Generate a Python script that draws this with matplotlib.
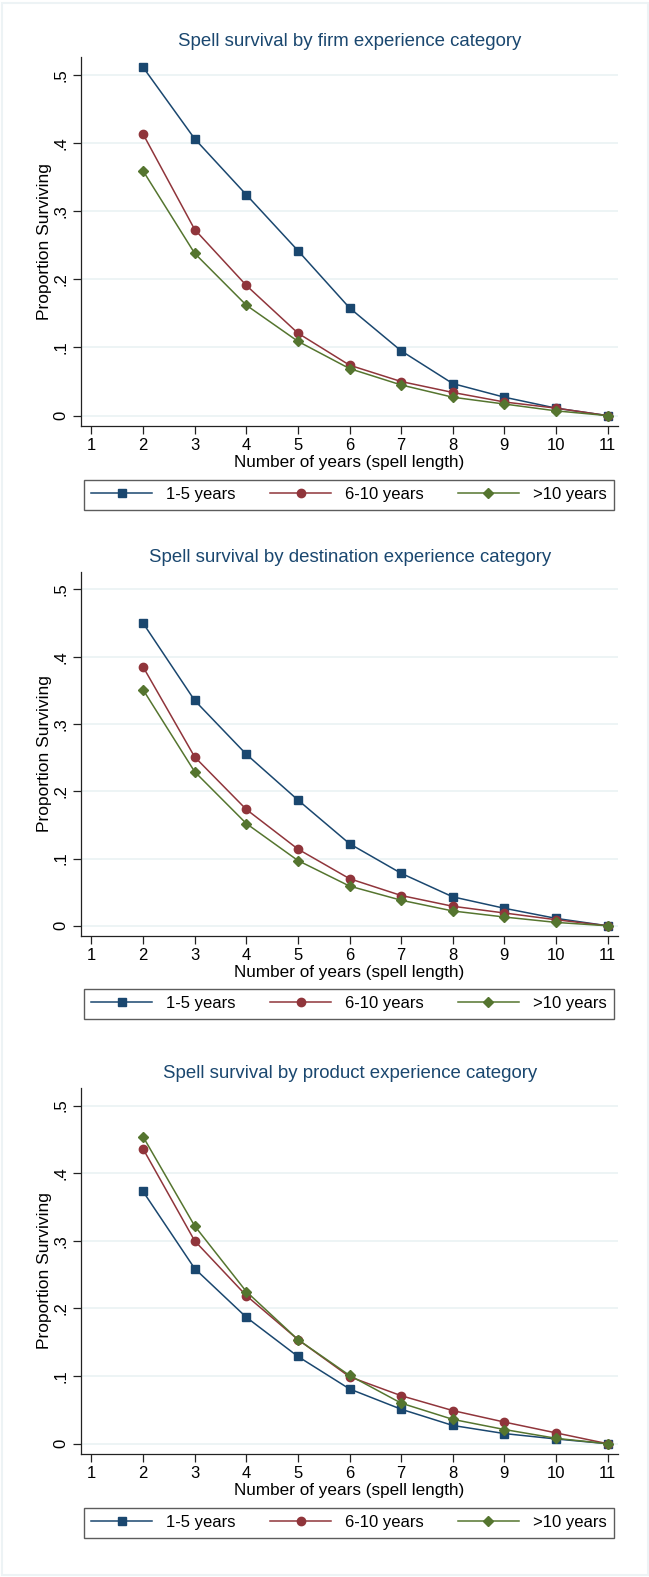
import matplotlib
matplotlib.use("Agg")
import matplotlib.pyplot as plt
from matplotlib.patches import Rectangle

plt.rcParams['font.family'] = ['Liberation Sans', 'DejaVu Sans']

# spell length in years
years = [2, 3, 4, 5, 6, 7, 8, 9, 10, 11]
series_names = ["1-5 years", "6-10 years", ">10 years"]

# panel titles
titles = ["Spell survival by firm experience category",
          "Spell survival by destination experience category",
          "Spell survival by product experience category"]

# proportion surviving
firm_1_5 = [0.511, 0.406, 0.324, 0.242, 0.158, 0.095, 0.047, 0.027, 0.011, 0.0]
firm_6_10 = [0.413, 0.273, 0.191, 0.121, 0.074, 0.050, 0.034, 0.020, 0.011, 0.0]
firm_10p = [0.359, 0.238, 0.162, 0.109, 0.069, 0.045, 0.027, 0.017, 0.007, 0.0]

dest_1_5 = [0.450, 0.335, 0.255, 0.187, 0.122, 0.078, 0.043, 0.026, 0.011, 0.0]
dest_6_10 = [0.385, 0.251, 0.173, 0.114, 0.070, 0.045, 0.029, 0.019, 0.009, 0.0]
dest_10p = [0.351, 0.229, 0.152, 0.097, 0.059, 0.038, 0.022, 0.013, 0.005, 0.0]

prod_1_5 = [0.373, 0.259, 0.187, 0.129, 0.081, 0.051, 0.027, 0.015, 0.007, 0.0]
prod_6_10 = [0.436, 0.300, 0.219, 0.154, 0.099, 0.071, 0.049, 0.032, 0.016, 0.0]
prod_10p = [0.454, 0.322, 0.225, 0.154, 0.101, 0.060, 0.036, 0.021, 0.008, 0.0]

panels = [[firm_1_5, firm_6_10, firm_10p],
          [dest_1_5, dest_6_10, dest_10p],
          [prod_1_5, prod_6_10, prod_10p]]

colors = ['#1a476f', '#90353b', '#55752f']
markers = ['s', 'o', 'D']
msizes = [6, 6, 5.5]

W, H = 649, 1577
fig = plt.figure(figsize=(W / 100, H / 100), dpi=100)
fig.patches.append(Rectangle((0.003, 0.001), 0.995, 0.997, transform=fig.transFigure,
                             fill=False, edgecolor='#edf3f5', lw=1.5))

# pixel layout of each panel: (axes top, axes bottom, title y, legend top, legend bottom)
layout = [(57, 426, 42, 480, 509),
          (572, 936, 557, 989, 1018),
          (1088, 1454, 1074, 1508, 1537)]
ax_left, ax_right = 80.6, 618


def fx(px):
    return px / W


def fy(px):
    return 1 - px / H


for (top, bot, ty, ltop, lbot), data, title in zip(layout, panels, titles):
    ax = fig.add_axes([fx(ax_left), fy(bot), fx(ax_right - ax_left), (bot - top) / H])
    for vals, name, c, m, ms in zip(data, series_names, colors, markers, msizes):
        ax.plot(years, vals, color=c, marker=m, markersize=ms, lw=1.1, label=name)
    ax.set_xlim(0.79, 11.2)
    ax.set_ylim(-0.0152, 0.526)
    ax.set_xticks(range(1, 12))
    ax.set_yticks([0, 0.1, 0.2, 0.3, 0.4, 0.5])
    ax.set_yticklabels(["0", ".1", ".2", ".3", ".4", ".5"], rotation=90, va='center')
    ax.tick_params(labelsize=12, length=6, width=0.9, color='#222222', pad=3)
    ax.grid(axis='y', color='#eaf2f3', lw=1.2)
    ax.set_axisbelow(True)
    for s in ['top', 'right']:
        ax.spines[s].set_visible(False)
    for s in ['left', 'bottom']:
        ax.spines[s].set_linewidth(0.9)
        ax.spines[s].set_color('#222222')
    ax.set_ylabel("Proportion Surviving", fontsize=12.5, labelpad=1)
    ax.set_xlabel("Number of years (spell length)", fontsize=12.3, labelpad=1)
    fig.text(fx(350), fy(ty), title, fontsize=13.4,
             color='#1a476f', ha='center', va='center')
    leg = ax.legend(loc='center', ncol=3, fontsize=12,
                    bbox_to_anchor=(fx(349), fy((ltop + lbot) / 2)),
                    bbox_transform=fig.transFigure, frameon=True, fancybox=False,
                    handlelength=3.66, handletextpad=0.84, columnspacing=2.05,
                    borderpad=0.45, borderaxespad=0)
    leg.get_frame().set_edgecolor('#333333')
    leg.get_frame().set_linewidth(1.0)

fig.savefig("out.png", dpi=100, facecolor='white')
